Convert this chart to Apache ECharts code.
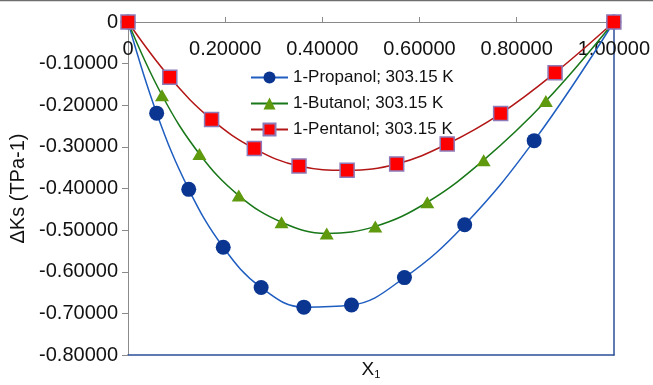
<!DOCTYPE html>
<html>
<head>
<meta charset="utf-8">
<script src="https://cdn.jsdelivr.net/npm/echarts@6/dist/echarts.min.js"></script>
<style>
html, body { margin: 0; padding: 0; background: #fff; }
#chart { width: 653px; height: 385px; }
</style>
</head>
<body>
<div id="chart"></div>
<script>
// Excess isentropic compressibility vs. mole fraction, 303.15 K
var seriesNames = ['1-Propanol; 303.15 K', '1-Butanol; 303.15 K', '1-Pentanol; 303.15 K'];

var propanolX = [0, 0.059, 0.125, 0.196, 0.274, 0.362, 0.460, 0.569, 0.693, 0.836, 1];
var propanolY = [0, -0.219, -0.402, -0.541, -0.638, -0.685, -0.680, -0.614, -0.487, -0.285, 0];

var butanolX = [0, 0.070, 0.147, 0.228, 0.316, 0.409, 0.509, 0.616, 0.732, 0.860, 1];
var butanolY = [0, -0.176, -0.317, -0.417, -0.481, -0.508, -0.491, -0.433, -0.332, -0.190, 0];

var pentanolX = [0, 0.086, 0.172, 0.260, 0.352, 0.451, 0.553, 0.657, 0.767, 0.879, 1];
var pentanolY = [0, -0.133, -0.234, -0.304, -0.346, -0.356, -0.341, -0.293, -0.220, -0.122, 0];

function pairs(xs, ys) {
  return xs.map(function (x, i) { return [x, ys[i]]; });
}

function fmt(v) {
  return Math.abs(v) < 1e-9 ? '0' : v.toFixed(5);
}

var font = 'Liberation Sans, Arial, sans-serif';
var axisGray = '#8a8a8a';
var frameBlue = '#2b4f98';

var chart = echarts.init(document.getElementById('chart'), null, { renderer: 'canvas' });

chart.setOption({
  animation: false,
  backgroundColor: '#ffffff',
  textStyle: { fontFamily: font },
  grid: { left: 128, top: 22, right: 36, bottom: 23, containLabel: false },
  graphic: [{
    type: 'line',
    shape: { x1: 0, y1: 0.5, x2: 653, y2: 0.5 },
    style: { stroke: '#6e6e6e', lineWidth: 1.5 },
    silent: true
  }],
  legend: {
    orient: 'vertical',
    left: 245,
    top: 64,
    itemWidth: 37,
    itemHeight: 15,
    itemGap: 9,
    textStyle: { fontFamily: font, fontSize: 17, color: '#111', lineHeight: 17 },
    data: seriesNames
  },
  xAxis: [{
    type: 'value',
    position: 'top',
    min: 0, max: 1, interval: 0.2,
    axisLine: { show: true, onZero: false, lineStyle: { color: axisGray, width: 1 } },
    axisTick: { show: true, inside: false, length: 5, lineStyle: { color: axisGray } },
    axisLabel: { inside: true, margin: 17, fontSize: 20, color: '#111', fontFamily: font, formatter: fmt },
    splitLine: { show: false }
  }, {
    type: 'value',
    position: 'bottom',
    min: 0, max: 1,
    axisLine: { show: true, onZero: false, lineStyle: { color: frameBlue, width: 1.5 } },
    axisTick: { show: false },
    axisLabel: { show: false },
    splitLine: { show: false },
    name: '{x|X}{s|1}',
    nameLocation: 'middle',
    nameGap: 5,
    nameTextStyle: {
      rich: {
        x: { fontSize: 19, color: '#111', fontFamily: font },
        s: { fontSize: 11, color: '#111', fontFamily: font, padding: [9, 0, 0, 0] }
      }
    }
  }],
  yAxis: [{
    type: 'value',
    position: 'left',
    min: -0.8, max: 0, interval: 0.1,
    axisLine: { show: true, onZero: false, lineStyle: { color: axisGray, width: 1 } },
    axisTick: { show: true, inside: false, length: 6, lineStyle: { color: axisGray } },
    axisLabel: { margin: 10, fontSize: 20, color: '#111', fontFamily: font, formatter: fmt },
    splitLine: { show: false },
    name: 'ΔKs (TPa-1)',
    nameLocation: 'middle',
    nameGap: 99,
    nameRotate: 90,
    nameTextStyle: { fontSize: 20, color: '#111', fontFamily: font }
  }, {
    type: 'value',
    position: 'right',
    min: -0.8, max: 0,
    axisLine: { show: true, onZero: false, lineStyle: { color: frameBlue, width: 1.5 } },
    axisTick: { show: false },
    axisLabel: { show: false },
    splitLine: { show: false }
  }],
  series: [{
    name: seriesNames[0],
    type: 'line',
    xAxisIndex: 0, yAxisIndex: 0,
    smooth: 0.4,
    data: pairs(propanolX, propanolY),
    symbol: 'circle',
    symbolSize: 15,
    lineStyle: { color: '#1f5ec0', width: 1.5 },
    itemStyle: { color: '#0a3591' }
  }, {
    name: seriesNames[1],
    type: 'line',
    xAxisIndex: 0, yAxisIndex: 0,
    smooth: 0.4,
    data: pairs(butanolX, butanolY),
    symbol: 'triangle',
    symbolSize: [14, 12],
    lineStyle: { color: '#187718', width: 1.5 },
    itemStyle: { color: '#5e990e' }
  }, {
    name: seriesNames[2],
    type: 'line',
    xAxisIndex: 0, yAxisIndex: 0,
    smooth: 0.4,
    data: pairs(pentanolX, pentanolY),
    symbol: 'rect',
    symbolSize: 14,
    lineStyle: { color: '#b31616', width: 1.5 },
    itemStyle: { color: '#ff0000', borderColor: '#8c7bb8', borderWidth: 1.5 }
  }]
});
</script>
</body>
</html>
